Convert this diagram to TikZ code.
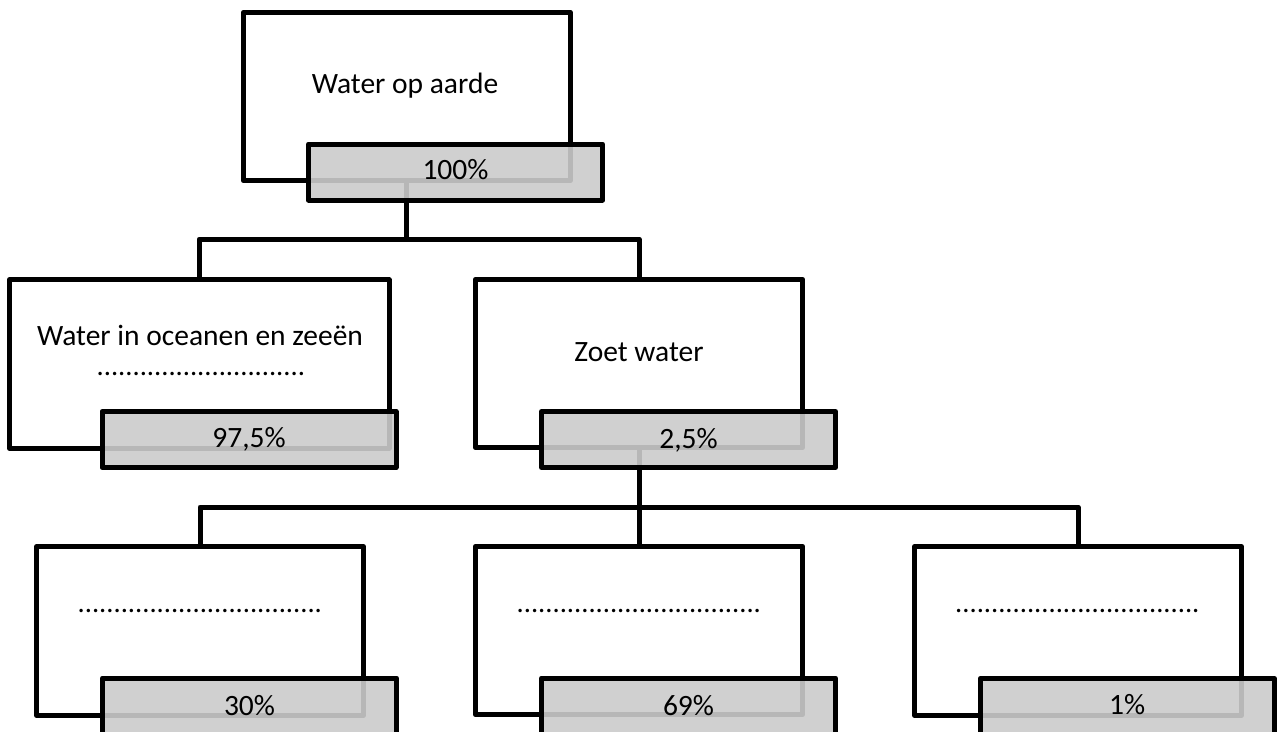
\documentclass[tikz,border=0pt]{standalone}
\usepackage{fontspec}
\setmainfont{Carlito}
\definecolor{greyfill}{RGB}{203,203,203}
\tikzset{
  wbox/.style={rectangle, draw=black, fill=white, line width=5pt, line join=round,
    inner sep=0pt, outer sep=0pt, minimum width=327pt, minimum height=168.5pt},
  gbox/.style={rectangle, draw=black, fill=greyfill, fill opacity=0.9, draw opacity=1,
    line width=5pt, line join=round, inner sep=0pt, outer sep=0pt,
    minimum width=294pt, minimum height=56pt},
  conn/.style={line width=5pt, line join=round, draw=black},
  lbl/.style={font=\fontsize{29.5}{35}\selectfont, anchor=base, inner sep=0pt, text=black},
  dotlbl/.style={font=\fontsize{28.5}{34}\selectfont, anchor=base, inner sep=0pt, text=black},
}
\begin{document}
\begin{tikzpicture}[x=1pt,y=-1pt]
\useasboundingbox (0,0) rectangle (1282,731);
% white boxes
\node[wbox] (topW) at (406.75,96.5) {};
\node[wbox, minimum width=379.5pt] (oceanW) at (199.25,364) {};
\node[wbox] (zoetW) at (639,363.5) {};
\node[wbox] (b1W) at (200,631) {};
\node[wbox] (b2W) at (639,630.5) {};
\node[wbox] (b3W) at (1078,631) {};
% connectors
\coordinate (j1) at (406.75,239);
\coordinate (j2) at (639,507);
\draw[conn] (topW.south) -- (j1);
\draw[conn] (oceanW.north) |- (j1) -| (zoetW.north);
\draw[conn] (zoetW.south) -- (j2);
\draw[conn] (b1W.north) |- (j2) -| (b3W.north);
\draw[conn] (j2) -- (b2W.north);
% grey boxes
\node[gbox] (topG) at (455.5,172) {};
\node[gbox] (oceanG) at (249,439.5) {};
\node[gbox] (zoetG) at (688.5,439.5) {};
\node[gbox] (b1G) at (249.5,706) {};
\node[gbox] (b2G) at (688.5,706) {};
\node[gbox] (b3G) at (1127.25,706.5) {};
% texts
\node[lbl] (t0) at (405,93) {Water op aarde};
\node[lbl] (t1) at (200,345) {Water in oceanen en zeeën};
\node[dotlbl] (d1) at (201,375) {.............................};
\node[lbl] (t2) at (639,361) {Zoet water};
\node[dotlbl] (d2) at (200,612) {..................................};
\node[dotlbl] (d3) at (639,612) {..................................};
\node[dotlbl] (d4) at (1077.5,612) {..................................};
\node[lbl] (p0) at (topG.center |- 0,179) {100\%};
\node[lbl] (p1) at (oceanG.center |- 0,447) {97,5\%};
\node[lbl] (p2) at (zoetG.center |- 0,448) {2,5\%};
\node[lbl] (p3) at (b1G.center |- 0,715) {30\%};
\node[lbl] (p4) at (b2G.center |- 0,715) {69\%};
\node[lbl] (p5) at (b3G.center |- 0,714) {1\%};
\end{tikzpicture}
\end{document}
